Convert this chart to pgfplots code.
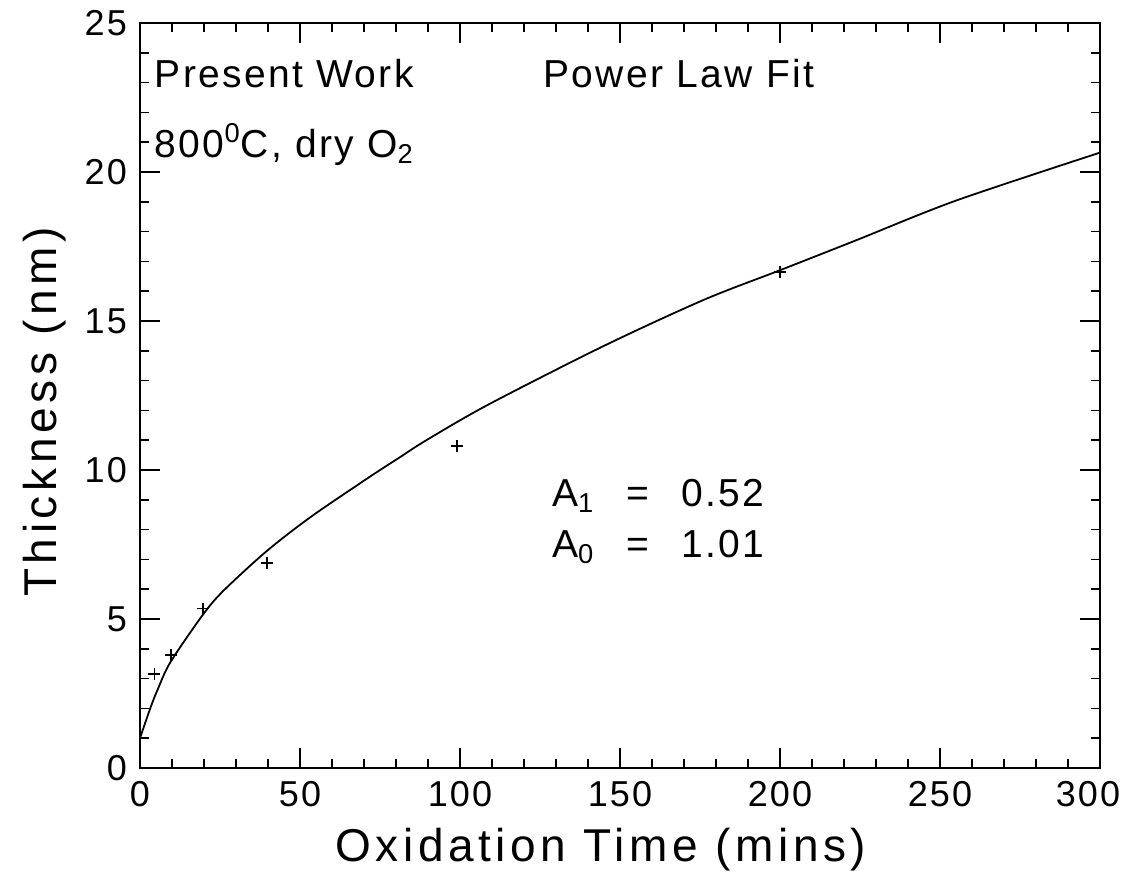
\documentclass[border=0pt]{standalone}
\usepackage{fontspec}
\setmainfont{Liberation Sans}[LetterSpace=6]
\usepackage{pgfplots}
\pgfplotsset{compat=1.18}

\begin{document}
\begin{tikzpicture}[x=1pt,y=1pt]
\useasboundingbox (-70,-52) rectangle (493,384);
\begin{axis}[
  at={(0,0)}, anchor=south west,
  scale only axis, width=480pt, height=372.5pt,
  xmin=0, xmax=300, ymin=0, ymax=25,
  xtick={0,50,...,250}, ytick={0,5,...,25},
  minor xtick={10,20,...,290}, minor y tick num=4,
  extra x ticks={300},
  extra x tick style={xticklabel style={xshift=-6pt}},
  major tick length=10pt, minor tick length=4.5pt,
  tick style={black, line width=0.8pt},
  axis line style={line width=1.1pt},
  tick label style={font=\fontsize{18}{20}\selectfont},
  xticklabel style={yshift=-3pt},
  yticklabel style={xshift=-3pt},
  /pgf/number format/assume math mode=true,
  xlabel={Oxidation Time (mins)},
  ylabel={Thickness (nm)},
  label style={font=\addfontfeature{LetterSpace=10}\fontsize{23}{26}\selectfont},
  xlabel style={at={(axis description cs:0.48,-0.126)}, anchor=base},
  ylabel style={at={(axis description cs:-0.0875,0.478)}, anchor=base},
  every axis plot/.append style={black},
]
% fitted curve
\addplot[smooth, line width=0.9pt] coordinates {
(0,1.0) (3.2,2.0) (5.4,2.6) (9.5,3.55) (19.7,5.15) (26.1,5.95)
(39.5,7.27) (53.3,8.42) (71.5,9.75) (81.1,10.42) (89.5,11.0)
(108.6,12.18) (144.5,14.14) (176.2,15.71) (200.4,16.72)
(223.6,17.7) (255,19.04) (300,20.65)
};
% measured thicknesses
\addplot[only marks, mark=+, mark size=3pt, line width=0.8pt] coordinates {
(4.5,3.15) (9.6,3.8) (19.6,5.35) (39.6,6.88) (99,10.8) (200,16.65)
};
\begin{scope}[every node/.style={inner sep=0pt, anchor=base west, font=\fontsize{19.5}{22}\selectfont}]
\node at (axis cs:4.5,22.82) {Present Work};
\node at (axis cs:4.5,20.5) {800\textsuperscript{0}C, dry O\textsubscript{2}};
\node at (axis cs:126,22.82) {Power Law Fit};
\node at (axis cs:128.7,8.79) {A\textsubscript{1}\hspace{16pt}=\hspace{16pt}0.52};
\node at (axis cs:128.7,7.08) {A\textsubscript{0}\hspace{16pt}=\hspace{16pt}1.01};
\end{scope}
\end{axis}
\end{tikzpicture}
\end{document}
